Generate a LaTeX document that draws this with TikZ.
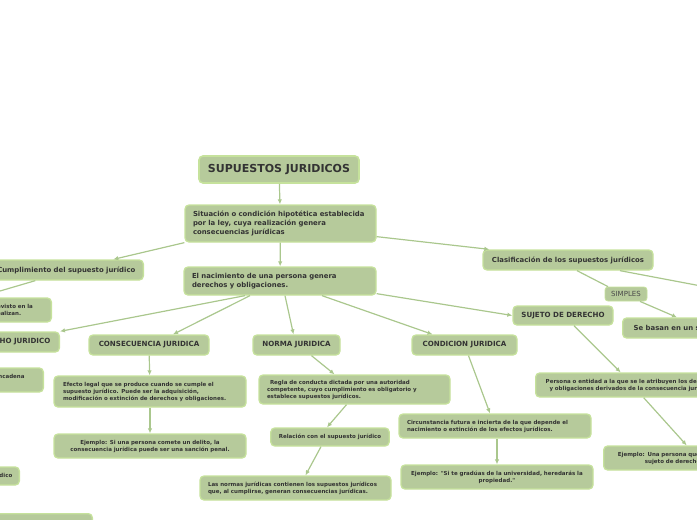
\documentclass[tikz,border=0pt]{standalone}
\usepackage{fontspec}
\setmainfont{DejaVu Sans}
\usepackage{tikz}
\usepackage{xcolor}
\usetikzlibrary{positioning,arrows.meta,calc}
\definecolor{mapfill}{HTML}{B6CA9B}
\definecolor{mapline}{HTML}{C6E29C}
\definecolor{mapedge}{HTML}{AAC78D}
\definecolor{mapink}{HTML}{333333}
\definecolor{simpleink}{HTML}{4A4A4A}

\begin{document}
\begin{tikzpicture}[x=1pt,y=-1pt,
    idea/.style={draw=mapline,fill=mapfill,rounded corners=4pt,line width=1.3pt,
      text=mapink,inner xsep=8pt,inner ysep=2pt,align=left,
      font=\bfseries\fontsize{5.5}{7}\selectfont},
    medio/.style={font=\bfseries\fontsize{6.9}{9}\selectfont},
    mayus/.style={font=\bfseries\fontsize{7.1}{8}\selectfont,align=center},
    enlace/.style={draw=mapedge,line width=1.2pt,-{Latex[length=5pt,width=4.5pt]}},
    tramo/.style={draw=mapedge,line width=1.2pt}]
      \useasboundingbox (0,0) rectangle (697,520);
      \clip (0,0) rectangle (697,520);
      % central topic
      \node[idea,font=\bfseries\fontsize{11}{13}\selectfont,align=center,
        minimum width=160,minimum height=27,line width=1.6pt] (titulo) at (279,169.5) {SUPUESTOS JURIDICOS};
      \node[idea,medio,text width=175,minimum height=37] (situacion) at (280.5,223.5)
        {Situación o condición hipotética establecida\\por la ley, cuya realización genera\\consecuencias jurídicas};
      \node[idea,medio,text width=176,minimum height=28] (nacimiento) at (280,281)
        {El nacimiento de una persona genera\\derechos y obligaciones.};
      % right branch
      \node[idea,medio,align=center,minimum width=170,minimum height=20] (clasif) at (568,260)
        {Clasificación de los supuestos jurídicos};
      \node[draw=mapline,fill=mapfill,rounded corners=3pt,line width=0.8pt,text=simpleink,
        font=\fontsize{7}{8}\selectfont,inner xsep=3pt,minimum width=42,minimum height=14] (simples) at (626,294) {SIMPLES};
      \node[idea,medio,anchor=west,inner xsep=11pt,minimum height=20] (sebasan) at (622,328)
        {Se basan en un solo hecho};
      \coordinate (clasifout) at (770,299);
      \node[idea,mayus,minimum width=100,minimum height=19] (sujeto) at (563,315.5) {SUJETO DE DERECHO};
      \node[idea,anchor=west,text width=176,align=center,minimum height=24] (persona) at (535,385)
        {Persona o entidad a la que se le atribuyen los derechos\\y obligaciones derivados de la consecuencia jurídica.};
      \node[idea,anchor=west,text width=170,align=center,minimum height=24] (ejuna) at (603,458)
        {Ejemplo: Una persona que nace se convierte en un\\sujeto de derecho con capacidad.};
      % left branch (cut by the frame)
      \node[idea,medio,anchor=east,minimum height=20] (cumpl) at (144,270)
        {Cumplimiento del supuesto jurídico};
      \node[idea,anchor=east,text width=110,minimum height=24] (previsto) at (52,310)
        {El acontecimiento previsto en la\\norma jurídica y se realizan.};
      \node[idea,mayus,anchor=east,inner xsep=9pt,minimum height=20] (hecho) at (60,342) {HECHO JURIDICO};
      \node[idea,anchor=east,text width=172,minimum height=24] (desencadena) at (44,380)
        {Acontecimiento natural o humano que desencadena\\efectos.};
      \node[idea,anchor=east,inner xsep=7pt,minimum height=18] (relhecho) at (20,476)
        {Relación con el supuesto jurídico};
      \node[idea,anchor=north east,minimum width=150,minimum height=25] (ejhecho) at (93,513) {};
      % middle branches
      \node[idea,mayus,minimum width=120,minimum height=20] (consec) at (149,345) {CONSECUENCIA JURIDICA};
      \node[idea,mayus,minimum width=87,minimum height=20] (norma) at (296.5,345) {NORMA JURIDICA};
      \node[idea,mayus,minimum width=105,minimum height=20] (condicion) at (464.5,345) {CONDICION JURIDICA};
      \node[idea,inner xsep=9pt,text width=174,minimum height=31] (efecto) at (150,391.5)
        {Efecto legal que se produce cuando se cumple el\\supuesto jurídico. Puede ser la adquisición,\\modificación o extinción de derechos y obligaciones.};
      \node[idea,text width=176,align=center,minimum height=24] (ejsi) at (150,446)
        {Ejemplo: Si una persona comete un delito, la\\consecuencia jurídica puede ser una sanción penal.};
      \node[idea,text width=175,minimum height=29] (regla) at (354.5,389.5)
        {\hspace{3pt}Regla de conducta dictada por una autoridad\\competente, cuyo cumplimiento es obligatorio y\\establece supuestos jurídicos.};
      \node[idea,align=center,minimum width=118,minimum height=18] (relacion) at (330,437)
        {Relación con el supuesto jurídico};
      \node[idea,text width=175,minimum height=24] (normas) at (295.5,488)
        {Las normas jurídicas contienen los supuestos jurídicos\\que, al cumplirse, generan consecuencias jurídicas.};
      \node[idea,text width=176,minimum height=24] (circ) at (495,426)
        {Circunstancia futura e incierta de la que depende el\\nacimiento o extinción de los efectos jurídicos.};
      \node[idea,text width=176,align=center,minimum height=24] (ejgrad) at (497,477)
        {Ejemplo: \textquotedbl Si te gradúas de la universidad, heredarás la\\propiedad.\textquotedbl};
      % connectors
      \draw[enlace] (titulo) -- (situacion);
      \draw[enlace] (situacion) -- (nacimiento);
      \draw[enlace] (situacion.south west) -- ([xshift=47pt]cumpl.north);
      \draw[enlace] ($(situacion.south east)+(0,-6)$) -- ([xshift=7pt]clasif.north west);
      \draw[enlace] ([xshift=-31pt]cumpl.south) -- ([xshift=-10pt]previsto.north);
      \draw[enlace] ([xshift=-35pt]nacimiento.south) -- (hecho.north east);
      \draw[enlace] ([xshift=-30pt]nacimiento.south) -- ([xshift=24pt]consec.north);
      \draw[enlace] ([xshift=5pt]nacimiento.south) -- ([xshift=-3pt]norma.north);
      \draw[enlace] ([xshift=42pt]nacimiento.south) -- ([xshift=-32pt]condicion.north);
      \draw[enlace] ($(nacimiento.south east)+(0,-2)$) -- (sujeto.west);
      \draw[tramo] ([xshift=9pt]clasif.south) -- ([xshift=-18pt]simples.north);
      \draw[enlace] ([xshift=14pt]simples.south) -- ([xshift=55pt]sebasan.north west);
      \draw[tramo] ([xshift=52pt]clasif.south) -- (clasifout);
      \draw[enlace] ([xshift=11pt]sujeto.south) -- ([xshift=-11pt]persona.north);
      \draw[enlace] ([xshift=12pt]persona.south) -- ([xshift=-10pt]ejuna.north);
      \draw[enlace] (consec) -- (efecto);
      \draw[enlace] (efecto) -- (ejsi);
      \draw[enlace] ([xshift=15pt]norma.south) -- ([xshift=-20pt]regla.north);
      \draw[enlace] ([xshift=-8pt]regla.south) -- ([xshift=-3pt]relacion.north);
      \draw[enlace] ([xshift=-9pt]relacion.south) -- ([xshift=10pt]normas.north);
      \draw[enlace] ([xshift=4pt]condicion.south) -- ([xshift=-5pt]circ.north);
      \draw[enlace] ([xshift=2pt]circ.south) -- (ejgrad.north);
\end{tikzpicture}
\end{document}
